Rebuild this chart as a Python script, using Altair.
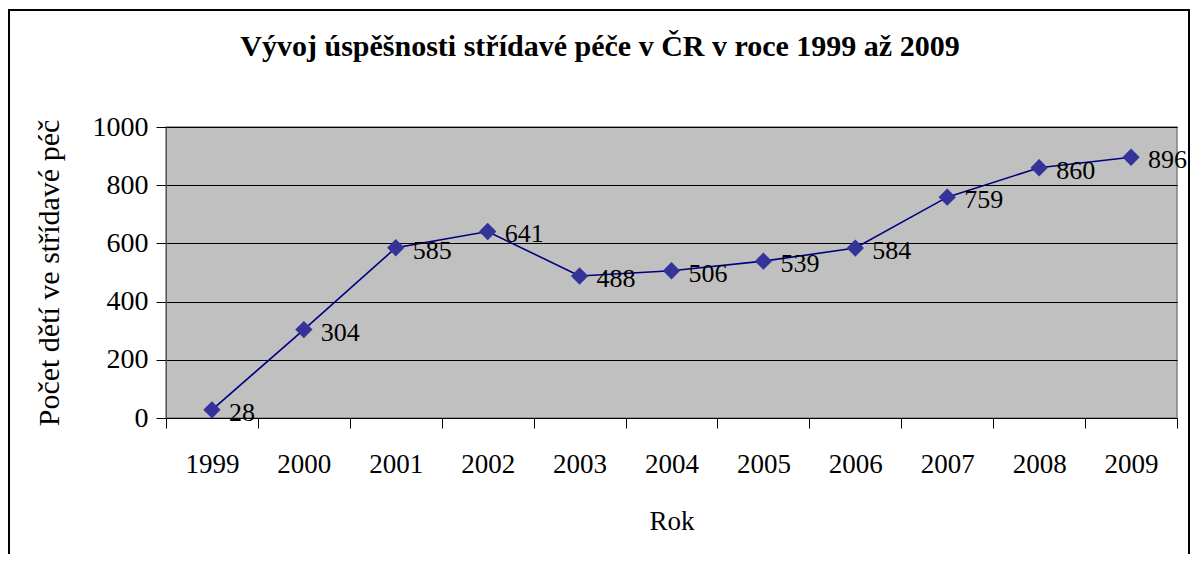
import altair as alt
import pandas as pd

years = ["1999", "2000", "2001", "2002", "2003", "2004", "2005", "2006", "2007", "2008", "2009"]
counts = [28, 304, 585, 641, 488, 506, 539, 584, 759, 860, 896]
y_ticks = [0, 200, 400, 600, 800, 1000]
title_text = ["Vývoj úspěšnosti střídavé péče v ČR v roce 1999 až 2009"]

df = pd.DataFrame({"Rok": years, "Pocet": counts})
df_title = pd.DataFrame({"t": title_text})

FONT = "Liberation Serif"
W, H = 1011, 291

x_enc = alt.X(
    "Rok:O",
    title="Rok",
    scale=alt.Scale(paddingInner=0, paddingOuter=0),
    axis=alt.Axis(
        labelAngle=0, tickBand="extent", tickSize=10, tickColor="#000000",
        domainColor="#000000", labelPadding=23, titlePadding=31,
        labelFontSize=27, titleFontSize=27, titleFontWeight="normal",
        labelFont=FONT, titleFont=FONT, labelColor="#000000", titleColor="#000000",
        grid=False,
    ),
)
y_enc = alt.Y(
    "Pocet:Q",
    title="Počet dětí ve střídavé péč",
    scale=alt.Scale(domain=[0, 1000], nice=False),
    axis=alt.Axis(
        values=y_ticks, format="d", tickSize=10, tickColor="#000000", domainColor="#555555",
        grid=True, gridColor="#000000", gridWidth=1, labelPadding=8,
        labelFontSize=28, titleFontSize=30, titleFontWeight="normal",
        labelFont=FONT, titleFont=FONT, labelColor="#000000", titleColor="#000000",
        titlePadding=28,
    ),
)

base = alt.Chart(df).encode(x=x_enc, y=y_enc)

line = base.mark_line(color="#000080", strokeWidth=1.6)
points = base.mark_point(shape="diamond", size=300, filled=True, color="#333399", opacity=1)
labels = base.mark_text(
    align="left", baseline="middle", dx=17, dy=3, font=FONT, fontSize=26, color="#000000"
).encode(text="Pocet:Q")

title = alt.Chart(df_title).mark_text(
    font=FONT, fontSize=30, fontWeight="bold", color="#000000",
    align="center", baseline="middle",
).encode(text="t:N", x=alt.value(434), y=alt.value(-80))

border = alt.Chart(df_title).mark_rect(
    fill=None, stroke="#000000", strokeWidth=2, clip=False
).encode(
    x=alt.value(-157), x2=alt.value(1023), y=alt.value(-117), y2=alt.value(440)
)

chart = alt.layer(border, line, points, labels, title).properties(
    width=W,
    height=H,
    autosize=alt.AutoSizeParams(type="none"),
    padding={"left": 158, "top": 119, "right": 13, "bottom": 136},
).configure_view(
    fill="#C0C0C0", stroke="#808080", strokeWidth=1.5
)

chart.save("out.html", embed_options={"renderer": "svg", "actions": False})
